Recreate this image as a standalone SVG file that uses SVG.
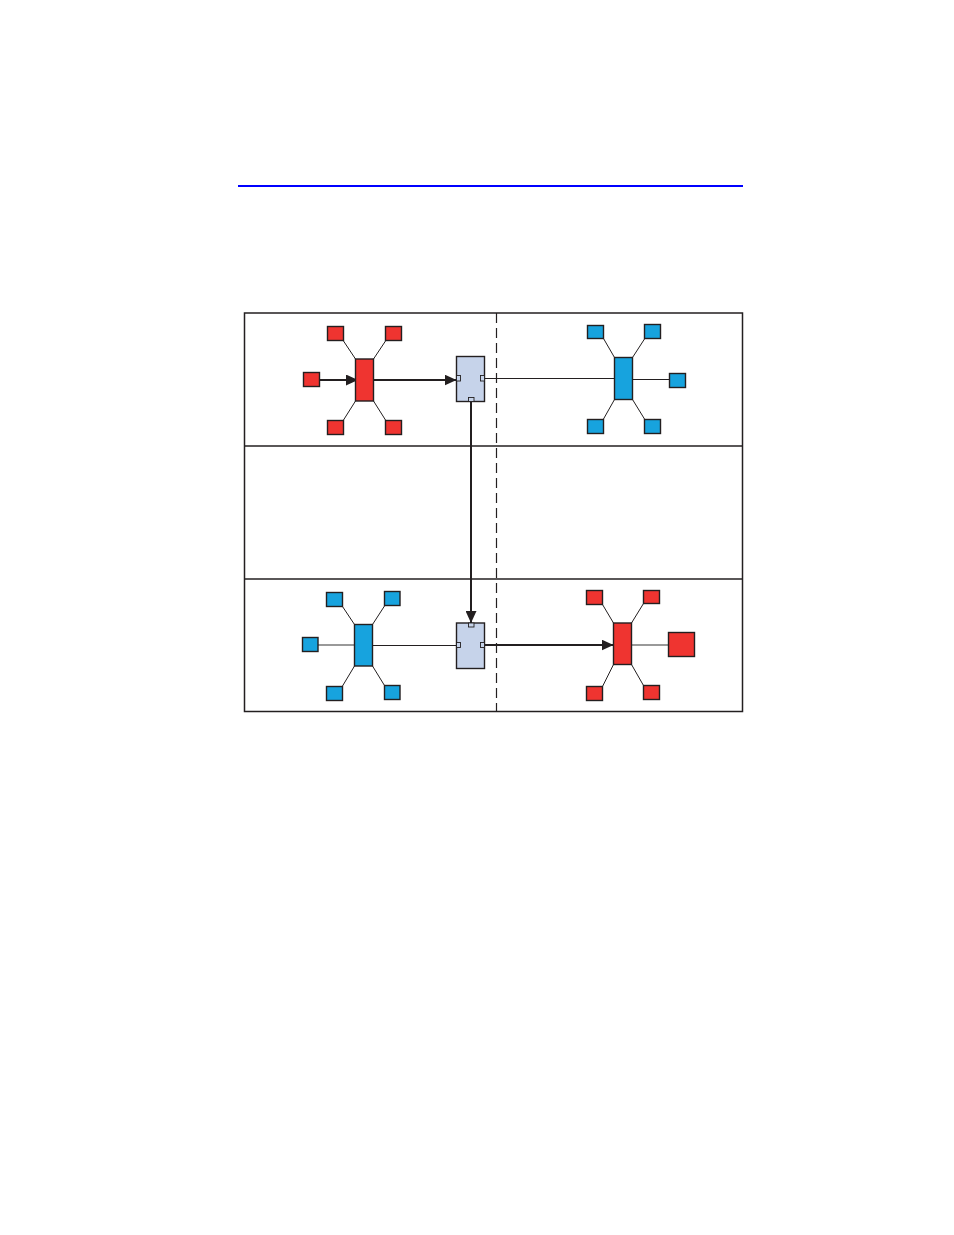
<svg xmlns="http://www.w3.org/2000/svg" width="954" height="1235" viewBox="0 0 954 1235">
<style>
.r{fill:#ef3430;stroke:#231f20;stroke-width:1.4}
.b{fill:#17a3de;stroke:#231f20;stroke-width:1.4}
.l{fill:#c6d3ea;stroke:#231f20;stroke-width:1.4}
.p{fill:#c6d3ea;stroke:#231f20;stroke-width:0.9}
.s{stroke:#231f20;stroke-width:1;fill:none}
.g{stroke:#777;stroke-width:1.6;fill:none}
.a{stroke:#231f20;stroke-width:2;fill:none}
.fr{stroke:#231f20;stroke-width:1.5;fill:none}
</style>
<defs>
<marker id="ah" markerUnits="userSpaceOnUse" markerWidth="14" markerHeight="11" refX="12" refY="5.5" orient="auto">
<path d="M0,0 L12,5.5 L0,11 Z" fill="#231f20"/>
</marker>
</defs>
<rect width="954" height="1235" fill="#fff"/>
<line x1="238" y1="186" x2="743" y2="186" stroke="#0000ff" stroke-width="1.8"/>
<g id="frame">
<rect class="fr" x="244.5" y="313" width="498" height="398.5"/>
<line class="fr" x1="244.5" y1="446" x2="742.5" y2="446"/>
<line class="fr" x1="244.5" y1="579" x2="742.5" y2="579"/>
<line x1="496.5" y1="313" x2="496.5" y2="711.5" stroke="#231f20" stroke-width="1.2" stroke-dasharray="10,5"/>
</g>
<g id="connectors">
<line class="s" x1="343.5" y1="341" x2="355.5" y2="359"/>
<line class="s" x1="385.5" y1="341" x2="373.5" y2="359"/>
<line class="s" x1="355.5" y1="401" x2="343.5" y2="420"/>
<line class="s" x1="373.5" y1="401" x2="385.5" y2="420"/>
<line class="a" x1="319" y1="380" x2="358" y2="380" marker-end="url(#ah)"/>
<line class="a" x1="373.5" y1="380" x2="456.5" y2="380" marker-end="url(#ah)"/>
<line class="s" x1="484.5" y1="378.5" x2="614.5" y2="378.5"/>
<line class="s" x1="603.5" y1="338.5" x2="614.5" y2="357.5"/>
<line class="s" x1="644.5" y1="339" x2="632.5" y2="357.5"/>
<line class="s" x1="614.5" y1="399.5" x2="603.5" y2="419"/>
<line class="s" x1="632.5" y1="399.5" x2="644.5" y2="419"/>
<line class="s" x1="632.5" y1="379.5" x2="669.5" y2="379.5"/>
<line class="a" x1="471" y1="401.5" x2="471" y2="623" marker-end="url(#ah)"/>
<line class="s" x1="342.5" y1="606.5" x2="354.5" y2="624.5"/>
<line class="s" x1="384.5" y1="606" x2="372.5" y2="624.5"/>
<line class="s" x1="354.5" y1="666" x2="342.5" y2="686"/>
<line class="s" x1="372.5" y1="666" x2="384.5" y2="685.5"/>
<line class="g" x1="318" y1="645" x2="354.5" y2="645"/>
<line class="s" x1="372.5" y1="645.5" x2="456.5" y2="645.5"/>
<line class="a" x1="484.5" y1="645" x2="613.5" y2="645" marker-end="url(#ah)"/>
<line class="s" x1="602.5" y1="604.5" x2="613.5" y2="623"/>
<line class="s" x1="643.5" y1="603.5" x2="631.5" y2="623"/>
<line class="s" x1="613.5" y1="664.5" x2="602.5" y2="686.5"/>
<line class="s" x1="631.5" y1="664.5" x2="643.5" y2="685.5"/>
<line class="g" x1="631.5" y1="645" x2="668.5" y2="645"/>
</g>
<g id="tl-hub"><rect class="r" x="355.5" y="359" width="18" height="42"/></g>
<g id="tl-n1"><rect class="r" x="327.5" y="326.5" width="16" height="14"/></g>
<g id="tl-n2"><rect class="r" x="385.5" y="326.5" width="16" height="14"/></g>
<g id="tl-n3"><rect class="r" x="303.5" y="372.5" width="16" height="14"/></g>
<g id="tl-n4"><rect class="r" x="327.5" y="420.5" width="16" height="14"/></g>
<g id="tl-n5"><rect class="r" x="385.5" y="420.5" width="16" height="14"/></g>
<g id="top-box">
<rect class="l" x="456.5" y="356.5" width="28" height="45"/>
<rect class="p" x="456.5" y="375.5" width="4" height="5.5"/>
<rect class="p" x="480.5" y="375.5" width="4" height="5.5"/>
<rect class="p" x="468.5" y="397.5" width="5.5" height="4"/>
</g>
<g id="tr-hub"><rect class="b" x="614.5" y="357.5" width="18" height="42"/></g>
<g id="tr-n1"><rect class="b" x="587.5" y="325.5" width="16" height="13"/></g>
<g id="tr-n2"><rect class="b" x="644.5" y="324.5" width="16" height="14"/></g>
<g id="tr-n3"><rect class="b" x="669.5" y="373.5" width="16" height="14"/></g>
<g id="tr-n4"><rect class="b" x="587.5" y="419.5" width="16" height="14"/></g>
<g id="tr-n5"><rect class="b" x="644.5" y="419.5" width="16" height="14"/></g>
<g id="bl-hub"><rect class="b" x="354.5" y="624.5" width="18" height="41.5"/></g>
<g id="bl-n1"><rect class="b" x="326.5" y="592.5" width="16" height="14"/></g>
<g id="bl-n2"><rect class="b" x="384.5" y="591.5" width="15.5" height="14"/></g>
<g id="bl-n3"><rect class="b" x="302.5" y="637.5" width="15.5" height="14"/></g>
<g id="bl-n4"><rect class="b" x="326.5" y="686.5" width="16" height="14"/></g>
<g id="bl-n5"><rect class="b" x="384.5" y="685.5" width="15.5" height="14"/></g>
<g id="bottom-box">
<rect class="l" x="456.5" y="623" width="28" height="45.5"/>
<rect class="p" x="468.5" y="623" width="5.5" height="4"/>
<rect class="p" x="456.5" y="642.5" width="4" height="5"/>
<rect class="p" x="480.5" y="642.5" width="4" height="5"/>
</g>
<g id="br-hub"><rect class="r" x="613.5" y="623" width="18" height="41.5"/></g>
<g id="br-n1"><rect class="r" x="586.5" y="590.5" width="16" height="14"/></g>
<g id="br-n2"><rect class="r" x="643.5" y="590.5" width="16" height="13"/></g>
<g id="br-n3"><rect class="r" x="668.5" y="632.5" width="26" height="24"/></g>
<g id="br-n4"><rect class="r" x="586.5" y="686.5" width="16" height="14"/></g>
<g id="br-n5"><rect class="r" x="643.5" y="685.5" width="16" height="14"/></g>
</svg>
